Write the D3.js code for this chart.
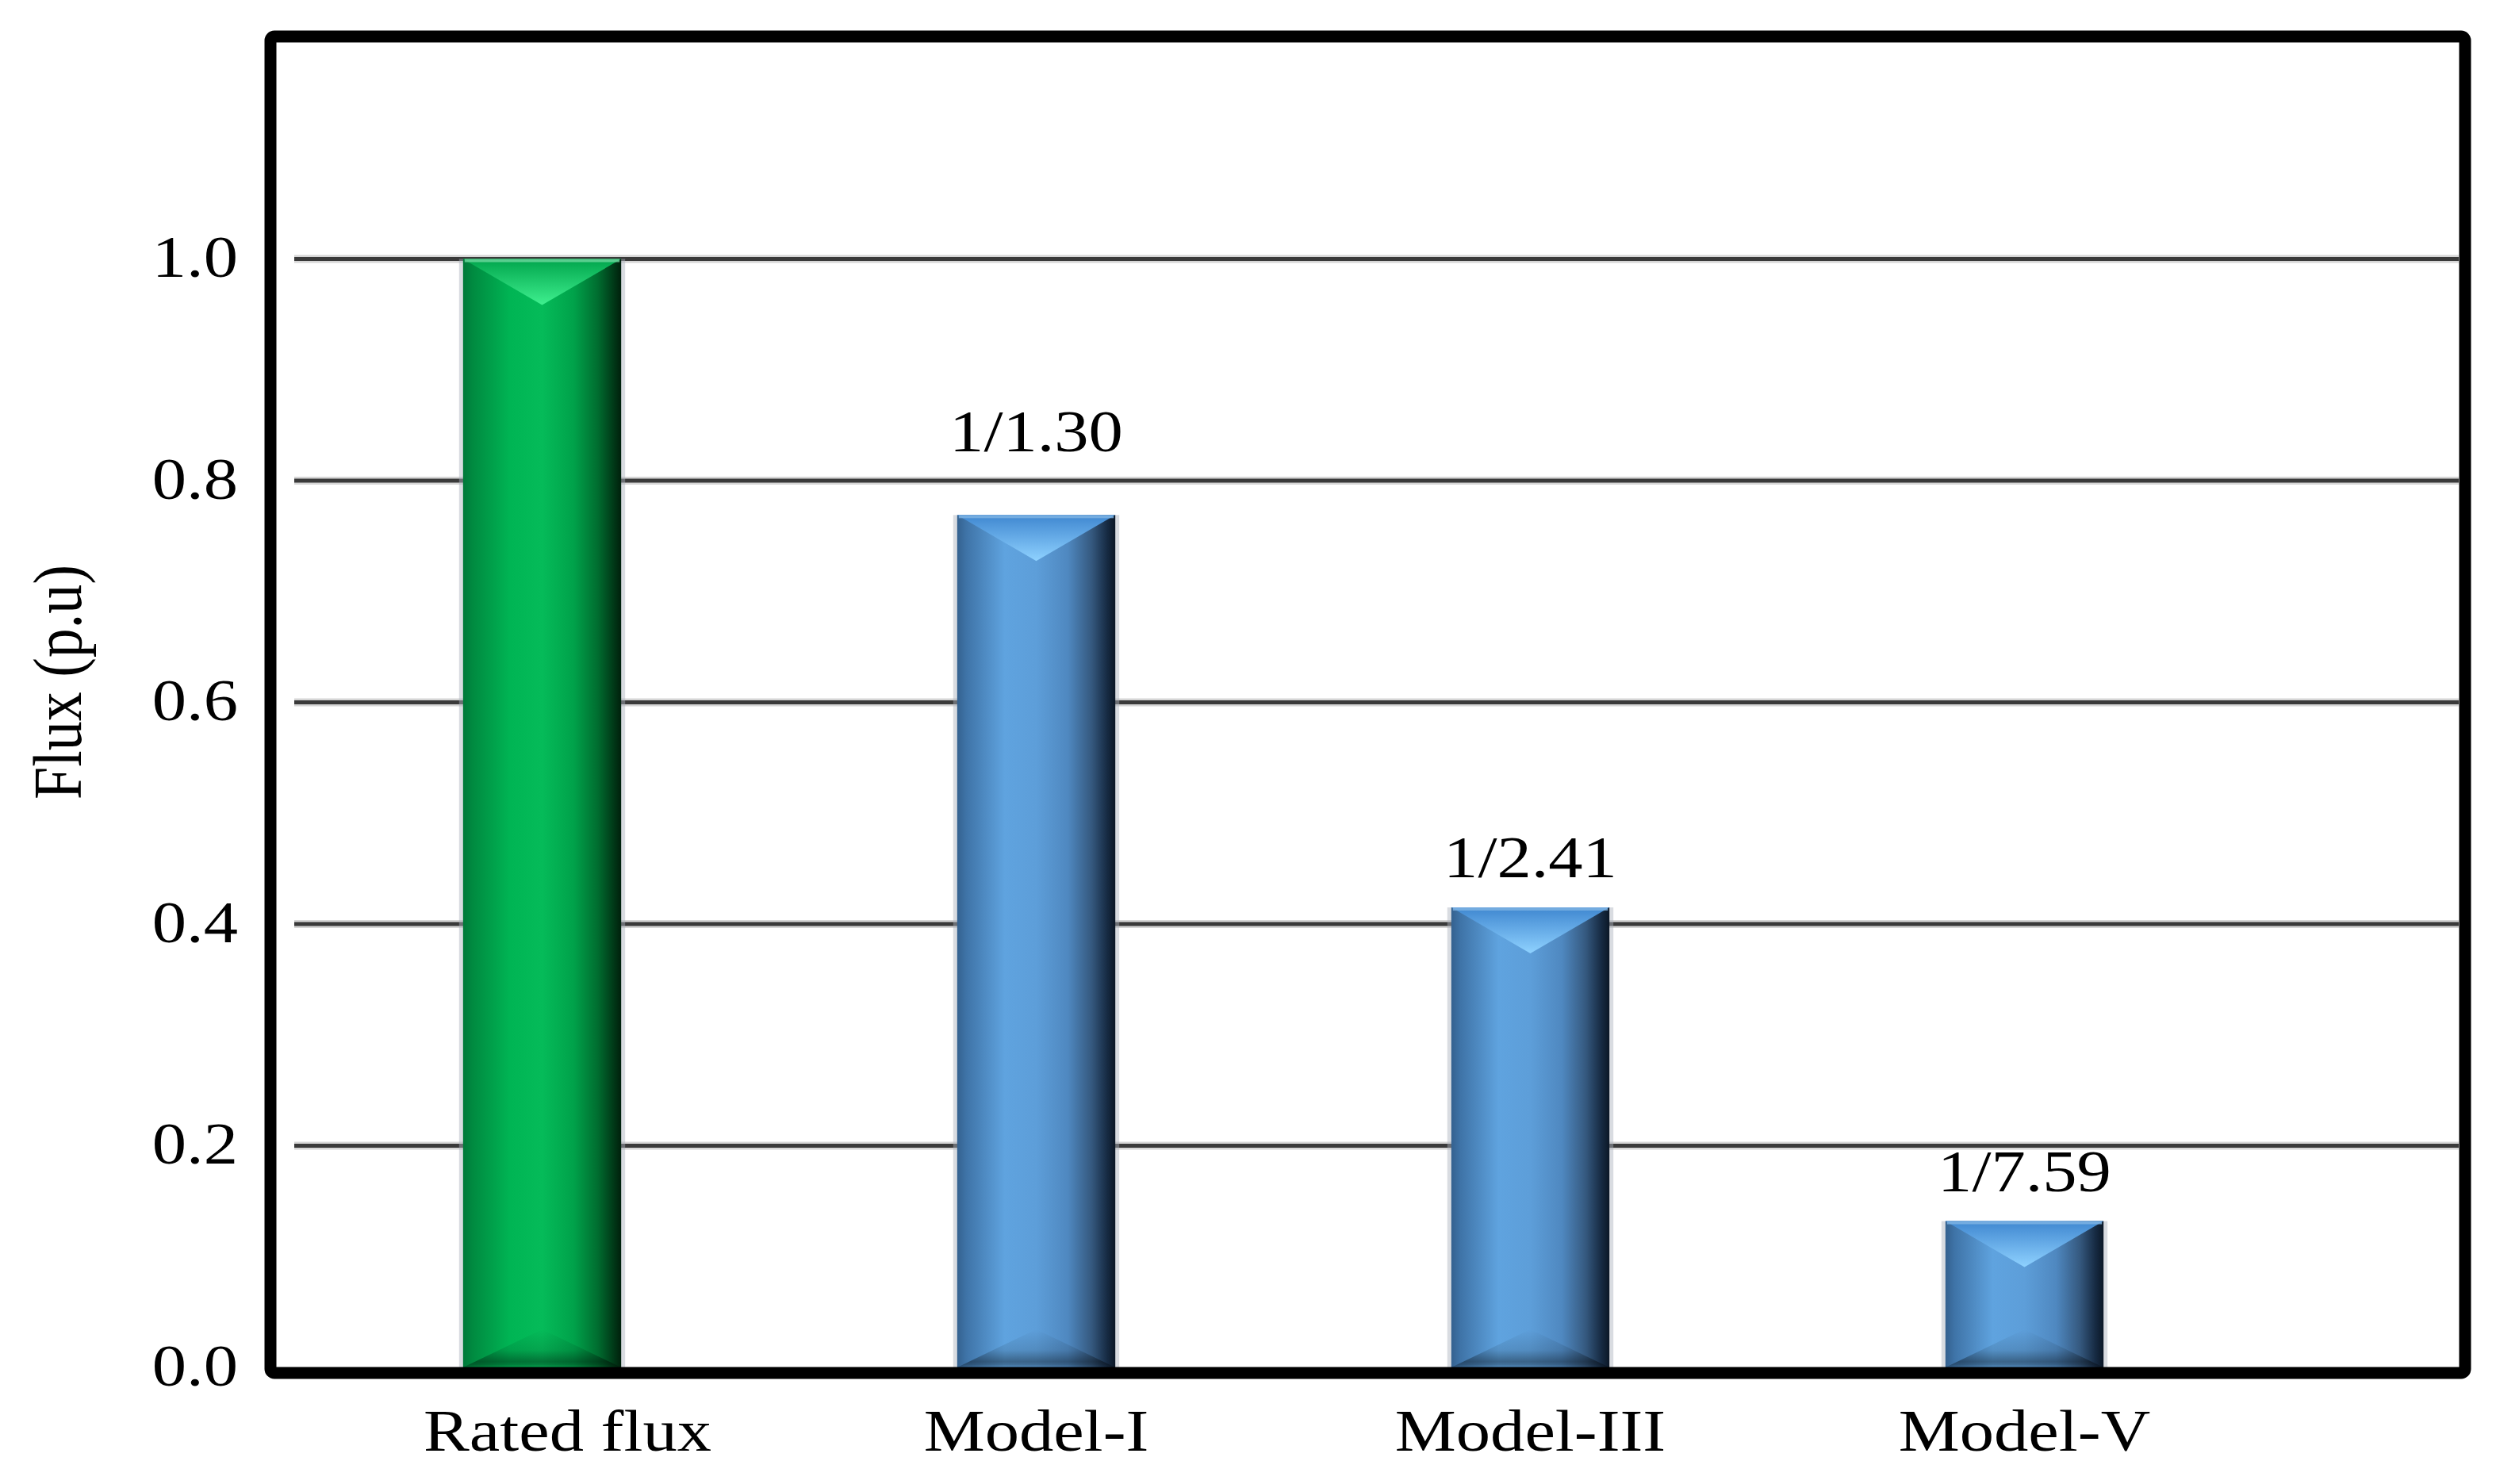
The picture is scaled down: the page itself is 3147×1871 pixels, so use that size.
<!DOCTYPE html>
<html>
<head>
<meta charset="utf-8">
<script src="https://cdn.jsdelivr.net/npm/d3@7"></script>
<style>
  body { margin: 0; background: #fff; }
  text { font-family: "Liberation Serif", "Times New Roman", serif; fill: #000; }
</style>
</head>
<body>
<div id="main"></div>
<script>
const categories = ["Rated flux", "Model-I", "Model-III", "Model-V"];
const fluxValues = [1.0, 0.769, 0.415, 0.132];
const ratioLabels = ["", "1/1.30", "1/2.41", "1/7.59"];
const yTicks = [0, 0.2, 0.4, 0.6, 0.8, 1.0];

const width = 3147;
const height = 1871;
const stretch = 1.17; // the source figure is a bit wider than tall
const fontSize = 74;
// hand-moved labels in the original
const labelLift = { "Model-I": 42 };
const tickNudge = { "Rated flux": 32 };

const palettes = {
  green: {
    side: ["#00793a", "#008a40", "#00b554", "#05bb59", "#00a24a", "#006e30", "#003a18", "#00200c"],
    top: ["#00a54c", "#3ff08f"],
    rim: "#6fd79f",
  },
  blue: {
    side: ["#34618f", "#3f74a8", "#5fa3df", "#5d9ed9", "#4f88c0", "#35597f", "#162a42", "#0b1726"],
    top: ["#3f87d0", "#8fd2ff"],
    rim: "#7fb4e4",
  },
};
const sideOffsets = [0, 0.06, 0.3, 0.5, 0.7, 0.85, 0.95, 1];

const svg = d3
  .select("#main")
  .append("svg")
  .attr("width", width)
  .attr("height", height)
  .style("background", "#fff");

const x = d3
  .scaleBand()
  .domain(categories)
  .range([372, 2864])
  .paddingInner(0.68)
  .paddingOuter(0.34);

const y = d3.scaleLinear().domain([0, 1.2]).range([1724, 47]);

// gradients
const defs = svg.append("defs");
Object.entries(palettes).forEach(([name, p]) => {
  const side = defs.append("linearGradient").attr("id", `${name}Side`)
    .attr("x1", 0).attr("x2", 1).attr("y1", 0).attr("y2", 0);
  p.side.forEach((c, i) => side.append("stop").attr("offset", sideOffsets[i]).attr("stop-color", c));

  const top = defs.append("linearGradient").attr("id", `${name}Top`)
    .attr("x1", 0).attr("x2", 0).attr("y1", 0).attr("y2", 1);
  top.append("stop").attr("offset", 0).attr("stop-color", p.top[0]);
  top.append("stop").attr("offset", 0.55).attr("stop-color", d3.interpolateRgb(p.top[0], p.top[1])(0.55));
  top.append("stop").attr("offset", 1).attr("stop-color", p.top[1]);
});
const bottomShade = defs.append("linearGradient").attr("id", "bottomShade")
  .attr("x1", 0).attr("x2", 0).attr("y1", 0).attr("y2", 1);
[[0, 0], [0.55, 0.12], [0.85, 0.38], [0.93, 0.3], [1, 0.08]].forEach(([o, a]) =>
  bottomShade.append("stop").attr("offset", o).attr("stop-color", "#000").attr("stop-opacity", a));

// gridlines
const grid = svg.append("g").attr("class", "grid");
const gridTicks = yTicks.filter((t) => t > 0);
grid.selectAll(".halo").data(gridTicks).enter().append("line")
  .attr("x1", 371).attr("x2", 3100)
  .attr("y1", (d) => y(d)).attr("y2", (d) => y(d))
  .attr("stroke", "#d6d6d6").attr("stroke-width", 10);
grid.selectAll(".core").data(gridTicks).enter().append("line")
  .attr("x1", 371).attr("x2", 3100)
  .attr("y1", (d) => y(d)).attr("y2", (d) => y(d))
  .attr("stroke", "#3a3a3a").attr("stroke-width", 5);

// bars
const topDepth = 58;
const bottomDepth = 48;
const rows = categories.map((c, i) => ({ cat: c, value: fluxValues[i], label: ratioLabels[i] }));
const bars = svg.append("g").attr("class", "bars")
  .selectAll("g")
  .data(rows)
  .enter()
  .append("g");

bars.each(function (d) {
  const g = d3.select(this);
  const pal = d.cat === "Rated flux" ? "green" : "blue";
  const x0 = x(d.cat);
  const w = x.bandwidth();
  const y0 = y(d.value);
  const y1 = y(0);

  g.append("rect")
    .attr("x", x0 - 5).attr("y", y0).attr("width", w + 10).attr("height", y1 - y0)
    .attr("fill", "#aab2bc").attr("opacity", 0.45);
  g.append("rect")
    .attr("x", x0).attr("y", y0).attr("width", w).attr("height", y1 - y0)
    .attr("fill", `url(#${pal}Side)`);
  g.append("path")
    .attr("d", `M${x0},${y0}L${x0 + w},${y0}L${x0 + w / 2},${y0 + topDepth}Z`)
    .attr("fill", `url(#${pal}Top)`);
  g.append("rect")
    .attr("x", x0 + 2).attr("y", y0).attr("width", w - 4).attr("height", 4)
    .attr("fill", palettes[pal].rim).attr("opacity", 0.8);
  g.append("path")
    .attr("d", `M${x0},${y1}L${x0 + w},${y1}L${x0 + w / 2},${y1 - bottomDepth}Z`)
    .attr("fill", "url(#bottomShade)");
});

// value labels
svg.append("g").attr("class", "values")
  .selectAll("text")
  .data(rows)
  .enter()
  .append("text")
  .attr("transform", (d) =>
    `translate(${x(d.cat) + x.bandwidth() / 2},${y(d.value) - 38 - (labelLift[d.cat] || 0)}) scale(${stretch},1)`)
  .attr("text-anchor", "middle")
  .attr("font-size", fontSize)
  .text((d) => d.label);

// y axis
const yAxis = svg.append("g")
  .attr("transform", "translate(300,0)")
  .call(d3.axisLeft(y).tickValues(yTicks).tickSize(0).tickPadding(0).tickFormat(d3.format(".1f")));
yAxis.select(".domain").remove();
yAxis.selectAll("text")
  .attr("font-size", fontSize)
  .attr("font-family", null)
  .attr("dy", "0.3em")
  .attr("transform", `scale(${stretch},1)`);

// x axis
const xAxis = svg.append("g")
  .attr("transform", `translate(0,${y(0)})`)
  .call(d3.axisBottom(x).tickSize(0).tickPadding(52));
xAxis.select(".domain").remove();
xAxis.selectAll("text")
  .attr("font-size", fontSize)
  .attr("font-family", null)
  .attr("transform", (d) => `translate(${tickNudge[d] || 0},0) scale(${stretch},1)`);

// frame
svg.append("rect")
  .attr("x", 341).attr("y", 46)
  .attr("width", 3108 - 341).attr("height", 1731 - 46)
  .attr("rx", 5)
  .attr("fill", "none")
  .attr("stroke", "#000")
  .attr("stroke-width", 15);

// y title
svg.append("text")
  .attr("transform", `translate(102,860) scale(${stretch},1) rotate(-90)`)
  .attr("text-anchor", "middle")
  .attr("font-size", fontSize)
  .text("Flux (p.u)");
</script>
</body>
</html>
